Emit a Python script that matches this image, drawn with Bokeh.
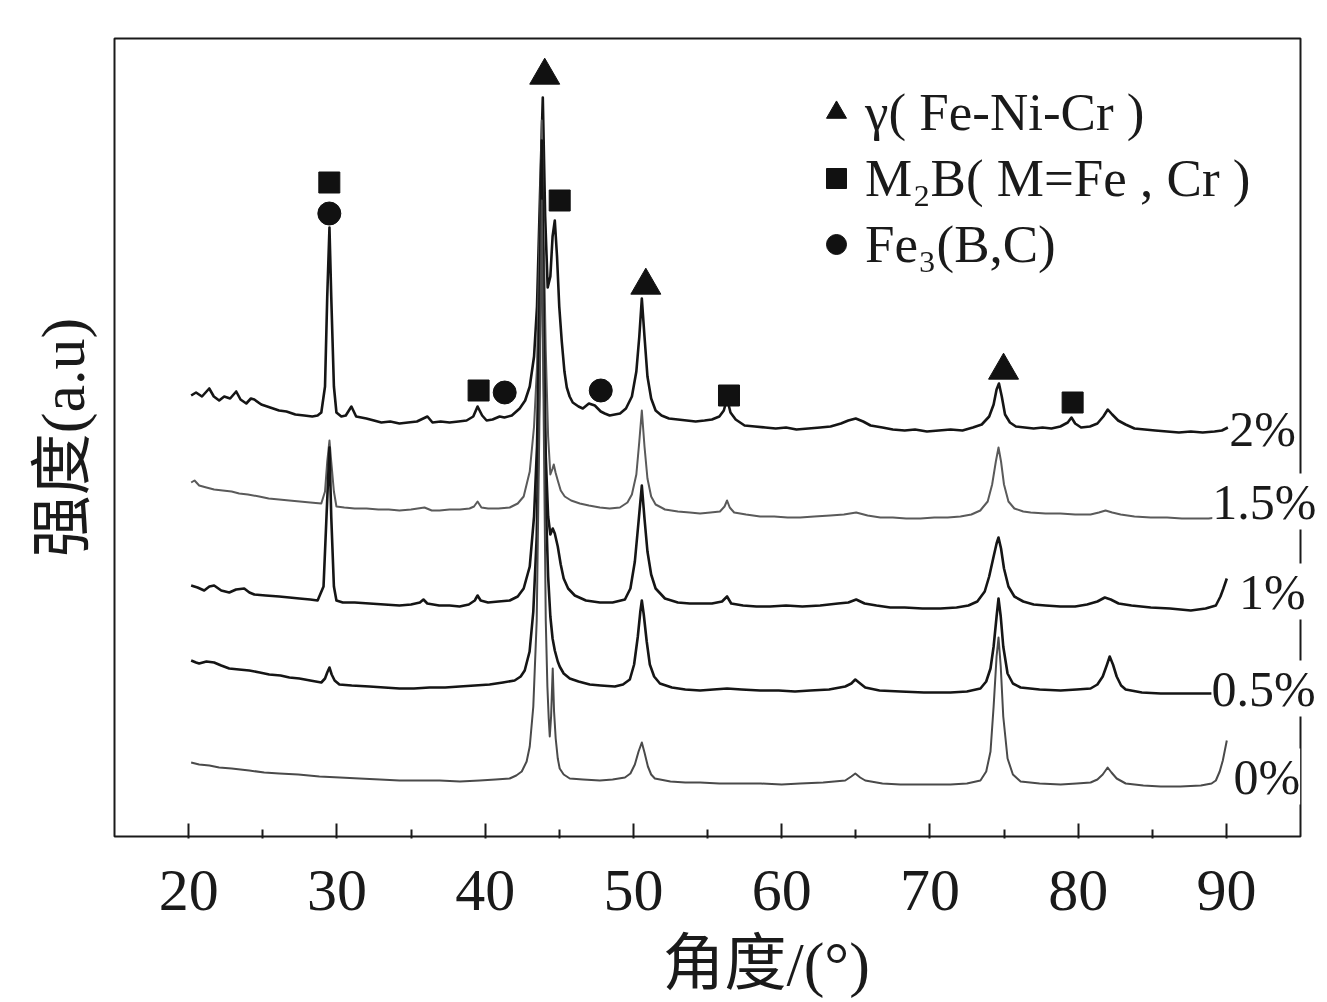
from bokeh.plotting import figure
from bokeh.models import (Range1d, FixedTicker, Legend, LegendItem, Title,
                          LabelSet, ColumnDataSource)
from bokeh.embed import file_html
from bokeh.resources import INLINE
from bokeh.core.properties import value

# ---------------- data: (2θ in degrees, intensity in a.u. incl. stacking offset) -------------
curve_2pct = [(20.17,441),(20.5,444),(20.9,440),(21.39,448),(21.7,440),(22.06,436),(22.4,440),
    (22.8,438),(23.21,445),(23.5,437),(23.89,433),(24.2,438),(24.43,437),(24.9,432),(25.5,429),
    (26.1,426),(26.6,425),(27.2,422),(27.8,421),(28.34,420),(28.7,421),(28.95,424),(29.2,450),
    (29.35,540),(29.5,609),(29.62,540),(29.8,450),(29.97,424),(30.3,420),(30.6,421),(30.98,430),
    (31.3,420),(31.99,418),(32.5,416),(33.0,414),(33.6,415),(34.22,413),(34.8,414),(35.4,415),
    (36.11,420),(36.45,414),(37.0,415),(37.6,414),(38.2,415),(38.75,416),(39.2,420),(39.49,430),
    (39.8,421),(40.1,416),(40.5,417),(40.98,420),(41.3,419),(41.8,421),(42.33,428),(42.7,436),
    (43.01,450),(43.3,480),(43.5,530),(43.7,640),(43.89,739),(44.05,620),(44.22,549),(44.4,560),
    (44.55,600),(44.7,616),(44.85,580),(45.0,530),(45.17,495),(45.35,465),(45.51,449),(45.7,440),
    (45.91,434),(46.3,430),(46.59,428),(47.0,433),(47.4,431),(47.8,425),(48.07,423),(48.4,421),
    (48.75,422),(49.1,423),(49.5,428),(49.9,440),(50.2,465),(50.4,500),(50.57,538),(50.75,500),
    (50.95,460),(51.2,438),(51.5,426),(51.9,421),(52.4,418),(53.0,417),(53.6,416),(54.2,415),
    (54.8,416),(55.3,417),(55.8,420),(56.1,426),(56.32,438),(56.55,424),(56.9,417),(57.5,411),
    (58.2,410),(58.9,409),(59.6,408),(60.3,409),(61.0,407),(61.8,408),(62.6,409),(63.3,410),
    (64.0,413),(64.5,416),(65.0,418),(65.5,415),(66.0,411),(66.8,409),(67.5,407),(68.3,406),
    (69.0,407),(69.8,405),(70.6,406),(71.4,407),(72.2,406),(72.9,409),(73.5,412),(74.0,420),
    (74.3,432),(74.5,447),(74.66,453),(74.85,440),(75.07,422),(75.4,414),(75.8,410),(76.4,409),
    (77.0,408),(77.6,409),(78.2,408),(78.8,410),(79.3,414),(79.55,419),(79.8,413),(80.2,409),
    (80.8,410),(81.3,413),(81.7,420),(82.0,427),(82.3,422),(82.7,416),(83.2,412),(83.8,408),
    (84.5,407),(85.2,406),(86.0,405),(86.8,404),(87.6,405),(88.4,404),(89.2,405),(89.7,406),
    (90.1,409)]

curve_1_5pct = [(20.17,354),(20.4,356),(20.71,351),(21.2,349),(21.72,347),(22.3,346),(22.9,345),
    (23.41,343),(24.0,342),(24.76,340),(25.4,338),(26.1,337),(26.79,336),(27.5,335),(28.2,334),
    (28.95,333),(29.2,345),(29.35,375),(29.5,396),(29.62,375),(29.8,345),(29.97,330),(30.5,329),
    (31.2,328),(32.0,328),(32.8,327),(33.5,327),(34.22,326),(35.0,327),(35.91,329),(36.4,326),
    (36.93,326),(37.6,327),(38.3,327),(38.95,328),(39.25,330),(39.49,335),(39.75,329),(40.2,328),
    (40.9,328),(41.66,329),(42.2,333),(42.6,340),(43.01,365),(43.3,410),(43.5,470),(43.7,620),
    (43.82,716),(43.95,600),(44.09,486),(44.25,400),(44.4,362),(44.55,368),(44.63,372),(44.75,364),
    (44.9,356),(45.1,346),(45.37,340),(45.8,336),(46.39,333),(47.0,331),(47.74,329),(48.4,328),
    (49.09,329),(49.6,334),(49.9,342),(50.2,362),(50.4,395),(50.57,426),(50.75,390),(50.95,358),
    (51.2,340),(51.5,332),(52.13,327),(53.0,325),(53.8,324),(54.5,323),(55.2,324),(55.84,325),
    (56.15,330),(56.32,336),(56.5,329),(56.8,324),(57.6,322),(58.55,320),(59.5,320),(60.4,319),
    (61.25,319),(62.2,320),(63.28,321),(64.2,322),(65.03,324),(65.8,321),(66.66,319),(67.5,319),
    (68.4,318),(69.36,318),(70.3,319),(71.2,319),(72.06,320),(72.8,322),(73.4,326),(73.9,335),
    (74.2,352),(74.45,375),(74.63,389),(74.8,375),(75.0,352),(75.3,335),(75.7,328),(76.3,325),
    (76.8,324),(77.8,323),(78.8,323),(79.8,322),(80.84,322),(81.4,324),(81.85,326),(82.3,324),
    (82.87,322),(83.8,320),(84.9,319),(86.0,319),(87.0,318),(88.0,318),(88.8,318),(89.36,319),
    (89.7,322),(90.03,328)]

curve_1pct = [(20.17,251),(20.6,249),(21.05,246),(21.4,250),(21.72,251),(22.2,246),(22.74,244),
    (23.2,247),(23.75,248),(24.1,244),(24.43,242),(25.2,241),(26.11,240),(26.8,239),(27.47,238),
    (28.2,237),(28.7,236),(29.1,250),(29.3,320),(29.5,389),(29.62,320),(29.8,250),(29.97,236),
    (30.4,234),(31.2,234),(32.2,233),(33.2,232),(34.22,231),(35.0,232),(35.6,234),(35.84,237),
    (36.1,233),(36.9,231),(37.6,231),(38.28,230),(38.9,232),(39.3,236),(39.49,241),(39.7,236),
    (40.2,234),(40.9,235),(41.66,236),(42.2,240),(42.6,248),(43.01,270),(43.3,320),(43.5,390),
    (43.7,560),(43.82,696),(43.95,520),(44.09,380),(44.25,320),(44.4,302),(44.56,308),(44.7,303),
    (44.9,290),(45.1,272),(45.3,258),(45.6,248),(46.05,241),(46.8,236),(47.74,234),(48.6,234),
    (49.43,237),(49.8,248),(50.1,275),(50.35,315),(50.57,351),(50.75,318),(50.95,285),(51.2,262),
    (51.5,248),(52.13,238),(53.0,234),(53.8,233),(54.5,233),(55.3,233),(55.98,235),(56.32,240),
    (56.6,233),(57.4,231),(58.3,230),(59.22,230),(60.3,231),(61.4,230),(62.6,231),(63.8,233),
    (64.5,234),(65.03,237),(65.6,233),(66.4,231),(67.33,229),(68.3,229),(69.5,228),(70.71,228),
    (71.8,229),(72.6,231),(73.2,235),(73.7,245),(74.0,260),(74.3,280),(74.5,293),(74.63,299),
    (74.8,288),(75.0,268),(75.3,250),(75.7,240),(76.3,235),(77.0,232),(77.8,231),(78.8,230),
    (79.8,230),(80.6,232),(81.3,235),(81.8,239),(82.2,237),(82.73,233),(83.6,231),(84.9,229),
    (86.2,228),(87.6,226),(88.6,228),(89.29,231),(89.6,240),(89.8,248),(90.03,258)]

curve_0_5pct = [(20.17,176),(20.5,174),(20.71,173),(21.2,175),(21.72,174),(22.2,171),(22.74,168),
    (23.4,167),(24.09,166),(24.8,164),(25.44,162),(26.2,161),(26.8,159),(27.47,158),(28.2,156),
    (28.95,154),(29.2,158),(29.35,164),(29.5,169),(29.65,162),(29.85,156),(30.17,152),(31.0,151),
    (32.2,150),(33.2,149),(34.22,148),(35.2,148),(36.25,149),(37.3,149),(38.28,150),(39.3,151),
    (40.3,152),(41.2,154),(41.99,156),(42.4,160),(42.67,166),(43.0,185),(43.25,225),(43.48,300),
    (43.65,450),(43.82,676),(43.95,480),(44.09,336),(44.25,260),(44.4,220),(44.55,198),(44.7,186),
    (44.9,175),(45.03,170),(45.3,163),(45.71,158),(46.3,155),(47.06,152),(47.8,151),(48.75,150),
    (49.3,152),(49.76,157),(50.05,172),(50.3,200),(50.47,225),(50.57,236),(50.7,222),(50.9,195),
    (51.11,172),(51.4,160),(51.79,153),(52.6,149),(53.5,147),(54.5,146),(55.4,147),(56.32,148),
    (57.3,147),(58.55,146),(59.8,146),(60.9,145),(61.93,146),(63.2,147),(64.29,150),(64.7,153),
    (64.97,157),(65.3,153),(65.64,149),(66.6,146),(68.01,145),(69.6,144),(71.39,144),(72.5,145),
    (73.41,148),(73.8,155),(74.09,168),(74.3,190),(74.5,220),(74.63,238),(74.78,220),(74.95,190),
    (75.24,163),(75.6,153),(76.12,149),(77.4,147),(78.82,146),(79.9,147),(80.84,148),(81.3,152),
    (81.66,160),(81.95,172),(82.13,180),(82.35,172),(82.6,160),(82.9,151),(83.21,147),(84.3,144),
    (85.57,143),(86.9,143),(88.28,143),(89.2,143),(90.03,143)]

curve_0pct = [(20.17,74),(20.71,72),(21.4,71),(22.06,69),(22.9,68),(24.09,66),(25.1,64),(26.11,63),
    (27.4,62),(28.82,60),(30.2,59),(31.52,58),(32.9,57),(34.22,56),(35.6,56),(36.93,56),(38.3,55),
    (39.63,56),(40.7,57),(41.66,58),(42.1,61),(42.47,65),(42.8,75),(43.01,90),(43.25,130),
    (43.48,216),(43.65,400),(43.82,636),(43.95,420),(44.09,216),(44.2,150),(44.29,118),(44.36,100),
    (44.45,120),(44.56,168),(44.65,125),(44.76,98),(44.9,78),(45.03,68),(45.3,62),(45.71,58),
    (46.6,57),(47.74,56),(48.6,57),(49.43,59),(49.8,63),(50.1,72),(50.35,85),(50.57,94),(50.75,84),
    (50.98,70),(51.2,62),(51.45,58),(52.5,55),(53.5,54),(54.5,54),(55.8,53),(57.2,53),(58.6,53),
    (60.0,52),(61.25,53),(62.8,54),(64.29,56),(64.7,60),(64.97,63),(65.3,59),(65.64,56),(66.8,53),
    (68.01,52),(69.6,52),(71.39,52),(72.5,53),(73.41,56),(73.8,65),(74.09,85),(74.3,130),(74.5,180),
    (74.63,199),(74.78,170),(74.95,120),(75.24,78),(75.6,62),(76.12,55),(77.4,53),(78.82,52),
    (79.9,53),(80.84,54),(81.3,57),(81.66,62),(81.99,69),(82.25,64),(82.6,58),(83.21,53),(84.4,51),
    (85.57,50),(86.9,50),(88.28,51),(89.0,53),(89.29,56),(89.55,65),(89.76,76),(90.03,96)]

# phase identification marks (2θ, intensity)
gamma_x = [44.02, 50.84, 74.97]
gamma_y = [761, 551, 466]
m2b_x = [29.49, 45.03, 39.56, 56.45, 79.63]
m2b_y = [654, 636, 446, 441, 434]
fe3bc_x = [29.49, 41.32, 47.8]
fe3bc_y = [623, 444, 446]

pct_labels = ["2%", "1.5%", "1%", "0.5%", "0%"]
pct_label_x = [90.2, 89.05, 90.85, 88.99, 90.48]
pct_label_y = [408, 335, 245, 148, 60]

x_ticks = [20, 30, 40, 50, 60, 70, 80, 90]
x_minor = [25, 35, 45, 55, 65, 75, 85]

# plot box (axes frame) limits, in data units
box_x = [15, 95]
box_y = [0, 798]

# ---------------- figure ----------------
SERIF = "'Liberation Serif', 'Noto Sans CJK SC'"
INK = "#1a1a1a"
PX_PER_DEG = 14.825

x_start = box_x[0] - 2 / PX_PER_DEG
p = figure(frame_width=1208, frame_height=802, output_backend="svg", toolbar_location=None,
           x_range=Range1d(x_start, x_start + 1208 / PX_PER_DEG),
           y_range=Range1d(box_y[0] - 2, box_y[1] + 2),
           min_border_left=112, min_border_right=0, min_border_top=36,
           min_border_bottom=0)
p.grid.visible = False
p.outline_line_color = None
p.background_fill_color = "white"
p.border_fill_color = "white"

# the visible axes box (ends at 95°, labels may spill over it)
p.quad(left=[box_x[0]], right=[box_x[1]], bottom=[box_y[0]], top=[box_y[1]],
       fill_color=None, line_color=INK, line_width=2)

xa = p.xaxis[0]
xa.ticker = FixedTicker(ticks=x_ticks, minor_ticks=x_minor)
xa.major_tick_in = 15
xa.major_tick_out = 0
xa.minor_tick_in = 9
xa.minor_tick_out = 0
xa.major_tick_line_width = 2
xa.minor_tick_line_width = 2
xa.major_tick_line_color = INK
xa.minor_tick_line_color = INK
xa.axis_line_color = None
xa.major_label_text_font = "Liberation Serif"
xa.major_label_text_font_size = "60px"
xa.major_label_text_color = INK
xa.major_label_standoff = 32

ya = p.yaxis[0]
ya.ticker = FixedTicker(ticks=[])
ya.major_tick_line_color = None
ya.minor_tick_line_color = None
ya.major_label_standoff = 0
ya.axis_line_color = None
ya.axis_label = "强度(a.u)"
ya.axis_label_text_font = SERIF
ya.axis_label_text_font_size = "62px"
ya.axis_label_text_font_style = "normal"
ya.axis_label_text_color = INK
ya.axis_label_standoff = 16

styles = [
    (curve_2pct, "#151515", 2.6),
    (curve_1_5pct, "#5a5a5a", 2.0),
    (curve_1pct, "#151515", 2.6),
    (curve_0_5pct, "#151515", 2.6),
    (curve_0pct, "#4a4a4a", 2.0),
]
for pts, col, lw in styles:
    xs = [a for a, b in pts]
    ys = [b for a, b in pts]
    p.line(xs, ys, line_color=col, line_width=lw, line_join="round")

r_gamma = p.scatter(gamma_x, gamma_y, marker="triangle", size=30, color="#111111")
r_m2b = p.scatter(m2b_x, m2b_y, marker="square", size=21, color="#111111")
r_fe3 = p.scatter(fe3bc_x, fe3bc_y, marker="circle", size=23, color="#111111")

legend = Legend(items=[
    LegendItem(label="γ( Fe-Ni-Cr )", renderers=[r_gamma]),
    LegendItem(label="M₂B( M=Fe , Cr )", renderers=[r_m2b]),
    LegendItem(label="Fe₃(B,C)", renderers=[r_fe3]),
], location=(699, 562), border_line_color=None, background_fill_alpha=0,
   padding=0, margin=0, spacing=2, glyph_width=50, glyph_height=50,
   label_height=64, label_standoff=4, label_text_font="Liberation Serif",
   label_text_font_size="53px", label_text_color=INK)
p.add_layout(legend)

src = ColumnDataSource(dict(x=pct_label_x, y=pct_label_y, text=pct_labels))
p.add_layout(LabelSet(x="x", y="y", text="text", source=src,
                      text_font=value("Liberation Serif"), text_font_size="50px",
                      text_baseline="middle", text_align="left", text_color=INK,
                      background_fill_color="white"))

xlabel = Title(text="角度/(°)", align="left", offset=550, standoff=34,
               vertical_align="top",
               text_font=SERIF, text_font_size="62px", text_font_style="normal",
               text_color=INK)
p.add_layout(xlabel, "below")

open("out.html", "w").write(file_html(p, INLINE))
